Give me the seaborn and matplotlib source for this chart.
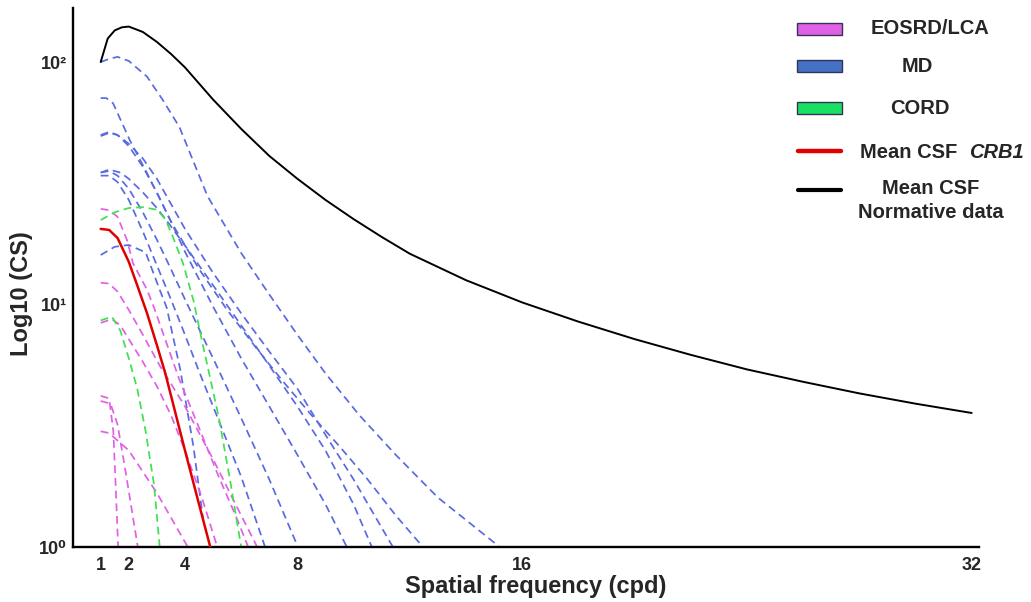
import matplotlib
matplotlib.use("Agg")
import matplotlib.pyplot as plt
import numpy as np
import pandas as pd
import seaborn as sns
from matplotlib.patches import Rectangle
from matplotlib.lines import Line2D
from matplotlib.ticker import FixedLocator, NullFormatter

# ---- data ----
x_ticks = [1, 2, 4, 8, 16, 32]
x_tick_labels = ["1", "2", "4", "8", "16", "32"]
y_ticks = [1, 10, 100]
y_tick_labels = ["10\u2070", "10\u00b9", "10\u00b2"]

norm_x = [1, 1.25, 1.5, 1.75, 2, 2.5, 3, 3.5, 4, 5, 6, 7, 8, 9, 10, 11, 12, 14, 16, 18, 20, 22, 24, 26, 28, 30, 32]
norm_y = [100, 125, 135, 139, 140, 133, 121, 108, 95, 70, 53, 41, 33, 27, 22.5, 19, 16.2, 12.6, 10.2, 8.5, 7.2, 6.2, 5.4, 4.8, 4.3, 3.9, 3.57]

crb1_x = [1, 1.3, 1.6, 2, 2.3, 2.65, 3, 3.3, 4, 4.5, 4.9]
crb1_y = [20.5, 20.3, 18.8, 15, 12, 9.2, 6.8, 5.2, 2.5, 1.5, 1.0]

md_1_x = [1, 1.3, 1.6, 2, 2.65, 3.2, 3.8, 4.8, 6, 7, 8, 9, 10.2, 11.5, 13, 15.2]
md_1_y = [100, 103, 105, 101, 87, 70, 54, 28, 16.3, 11, 7.5, 5.2, 3.5, 2.4, 1.6, 1.0]
md_2_x = [1, 1.2, 1.44, 2.04, 2.65, 3.5, 4.5, 5.5, 6.5, 7.5, 8.5, 9.5, 10.5, 11.5, 12.47]
md_2_y = [71, 71, 67.6, 47.5, 34.8, 22, 14, 9.5, 6.7, 4.8, 3.5, 2.6, 1.9, 1.35, 1.0]
md_3_x = [1, 1.3, 1.6, 2, 2.5, 3, 3.5, 4, 5, 6, 7, 8, 9, 10, 11.4]
md_3_y = [49.5, 51, 50, 46, 40, 33, 26, 20.5, 13.5, 9.2, 6.4, 4.5, 2.9, 1.9, 1.0]
md_4_x = [1, 1.3, 1.6, 2, 2.5, 3, 3.5, 4, 5, 6, 7, 8, 9, 9.76]
md_4_y = [50, 51.5, 50, 45, 37, 29, 22, 16.5, 9.8, 6.0, 3.8, 2.4, 1.5, 1.0]
md_5_x = [1, 1.3, 1.7, 2, 2.5, 3, 3.5, 4, 5, 6, 7, 8, 9, 10, 10.65]
md_5_y = [35, 36, 35, 33, 29, 25, 21, 17.5, 12, 8.2, 5.6, 3.8, 2.5, 1.5, 1.0]
md_6_x = [1, 1.3, 1.6, 2, 2.5, 3, 3.5, 4, 5, 6, 7, 8.02]
md_6_y = [35, 35.5, 34, 30, 24, 18.5, 14, 10.5, 6, 3.4, 1.9, 1.0]
md_7_x = [1, 1.3, 1.6, 2, 2.5, 3, 3.5, 4, 4.5, 5, 6, 6.85]
md_7_y = [34, 34, 32, 27, 20, 14.5, 10.5, 7.5, 5.3, 3.8, 1.95, 1.0]
md_8_x = [1, 1.5, 2, 2.6, 3.1, 3.35, 3.83, 4.3, 4.65]
md_8_y = [16, 17.3, 17.6, 16.4, 11.5, 9.7, 5.4, 2.6, 1.29]

lca_1_x = [1, 1.3, 1.6, 1.94, 2.15, 2.65, 2.9, 3.8, 4.5, 5.2, 5.8, 6.25]
lca_1_y = [24.8, 24.5, 23, 18.4, 14.8, 11.5, 9.7, 4.9, 3.1, 1.95, 1.35, 1.0]
lca_2_x = [1, 1.3, 1.6, 2, 2.5, 3.1, 4, 5, 5.8, 6.57]
lca_2_y = [12.3, 12.2, 11.3, 9.5, 7.5, 5.6, 3.8, 2.3, 1.5, 1.0]
lca_3_x = [1, 1.4, 1.7, 2, 2.5, 3, 3.5, 4, 4.6, 5.15]
lca_3_y = [8.4, 8.7, 8.2, 7.2, 5.8, 4.6, 3.5, 2.5, 1.6, 1.0]
lca_4_x = [1, 1.3, 1.45, 1.55, 1.62]
lca_4_y = [4.2, 4.1, 3.0, 1.6, 1.0]
lca_5_x = [1, 1.35, 1.6, 1.9, 2.32]
lca_5_y = [4.0, 3.9, 3.2, 2.0, 1.0]
lca_6_x = [1, 1.3, 2, 3, 4.1]
lca_6_y = [3.0, 2.95, 2.5, 1.67, 1.0]

cord_1_x = [1, 1.5, 2, 2.5, 3, 3.3, 3.57, 3.93, 4.3, 4.65, 5.2, 5.6, 6.0]
cord_1_y = [22.3, 24, 25, 25.2, 24.6, 22.5, 19, 14.8, 10.4, 6.7, 3.44, 1.9, 1.0]
cord_2_x = [1, 1.4, 1.7, 2.0, 2.3, 2.6, 2.9, 3.1]
cord_2_y = [8.6, 8.9, 7.8, 6.0, 4.5, 3.0, 1.8, 1.0]

md_curves = [(md_1_x, md_1_y), (md_2_x, md_2_y), (md_3_x, md_3_y), (md_4_x, md_4_y),
             (md_5_x, md_5_y), (md_6_x, md_6_y), (md_7_x, md_7_y), (md_8_x, md_8_y)]
lca_curves = [(lca_1_x, lca_1_y), (lca_2_x, lca_2_y), (lca_3_x, lca_3_y),
              (lca_4_x, lca_4_y), (lca_5_x, lca_5_y), (lca_6_x, lca_6_y)]
cord_curves = [(cord_1_x, cord_1_y), (cord_2_x, cord_2_y)]

LCA_COLOR = "#e060e6"
MD_COLOR = "#5a6ae0"
CORD_COLOR = "#40e050"
DASH = (0, (4.5, 2.8))

sns.set_style("white")
plt.rcParams["font.family"] = ["Liberation Sans", "DejaVu Sans"]
plt.rcParams["font.weight"] = "bold"

W, H = 1031, 602
fig = plt.figure(figsize=(W / 100, H / 100), dpi=100)
ax = fig.add_axes([72.6 / W, 1 - 547 / H, (979 - 72.6) / W, (547 - 8) / H])


def draw(xs, ys, color, ls, lw, zorder):
    sns.lineplot(x=xs, y=ys, ax=ax, color=color, linestyle=ls, linewidth=lw,
                 estimator=None, sort=False, legend=False, zorder=zorder)


for xs, ys in md_curves:
    draw(xs, ys, MD_COLOR, DASH, 1.25, 2)
for xs, ys in lca_curves:
    draw(xs, ys, LCA_COLOR, DASH, 1.25, 2)
for xs, ys in cord_curves:
    draw(xs, ys, CORD_COLOR, DASH, 1.25, 2)
draw(crb1_x, crb1_y, "#e00000", "-", 1.8, 3)
draw(norm_x, norm_y, "black", "-", 1.4, 3)

ax.set_yscale("log")
ax.set_xlim(0, 32.26)
ax.set_ylim(1, 167)

ax.xaxis.set_major_locator(FixedLocator(x_ticks))
ax.set_xticklabels(x_tick_labels, fontsize=13, fontweight="bold")
ax.xaxis.set_minor_locator(FixedLocator([0.5]))
ax.yaxis.set_major_locator(FixedLocator(y_ticks))
ax.set_yticklabels(y_tick_labels, fontsize=13, fontweight="bold")
minor_y = [m * d for d in (1, 10, 100) for m in range(2, 10) if m * d < 167]
ax.yaxis.set_minor_locator(FixedLocator(minor_y))
ax.yaxis.set_minor_formatter(NullFormatter())
ax.tick_params(axis="both", which="major", direction="in", color="#b0b0b0", width=1)
ax.tick_params(axis="x", which="both", length=7, pad=7)
ax.tick_params(axis="x", which="minor", direction="in", color="#b0b0b0", width=1)
ax.tick_params(axis="y", which="major", length=5, pad=4)
ax.tick_params(axis="y", which="minor", direction="in", color="#b0b0b0", length=3.5, width=1)

for side in ("top", "right"):
    ax.spines[side].set_visible(False)
for side in ("left", "bottom"):
    ax.spines[side].set_color("black")
    ax.spines[side].set_linewidth(1.7)

ax.set_xlabel("Spatial frequency (cpd)", fontsize=17, fontweight="bold")
ax.set_ylabel("Log10 (CS)", fontsize=17, fontweight="bold")
ax.xaxis.set_label_coords(0.511, -0.052)
ax.yaxis.set_label_coords(-0.0437, 0.471)


# ---- legend, drawn by hand in pixel positions ----
def fx(px):
    return px / W


def fy(py):
    return 1 - py / H


for py, col in ((29, LCA_COLOR), (66, "#4472c4"), (108, "#19e060")):
    fig.add_artist(Rectangle((fx(797), fy(py + 6)), 45 / W, 12 / H, transform=fig.transFigure,
                             facecolor=col, edgecolor="#333355", linewidth=1.0))
fig.add_artist(Line2D([fx(798), fx(841)], [fy(151), fy(151)], transform=fig.transFigure,
                      color="#e00000", linewidth=3.2))
fig.add_artist(Line2D([fx(798), fx(841)], [fy(190), fy(190)], transform=fig.transFigure,
                      color="black", linewidth=3.0))

LEG_FS = 14.5
fig.text(fx(930), fy(29), "EOSRD/LCA", ha="center", va="center", fontsize=LEG_FS, fontweight="bold")
fig.text(fx(917), fy(66), "MD", ha="center", va="center", fontsize=LEG_FS, fontweight="bold")
fig.text(fx(920), fy(108), "CORD", ha="center", va="center", fontsize=LEG_FS, fontweight="bold")
fig.text(fx(860), fy(152), "Mean CSF ", ha="left", va="center", fontsize=LEG_FS, fontweight="bold")
fig.text(fx(969), fy(152), "CRB1", ha="left", va="center", fontsize=LEG_FS, fontweight="bold",
         fontstyle="italic")
fig.text(fx(931), fy(188), "Mean CSF", ha="center", va="center", fontsize=LEG_FS, fontweight="bold")
fig.text(fx(931), fy(212), "Normative data", ha="center", va="center", fontsize=LEG_FS, fontweight="bold")

fig.savefig("out.png", dpi=100)
